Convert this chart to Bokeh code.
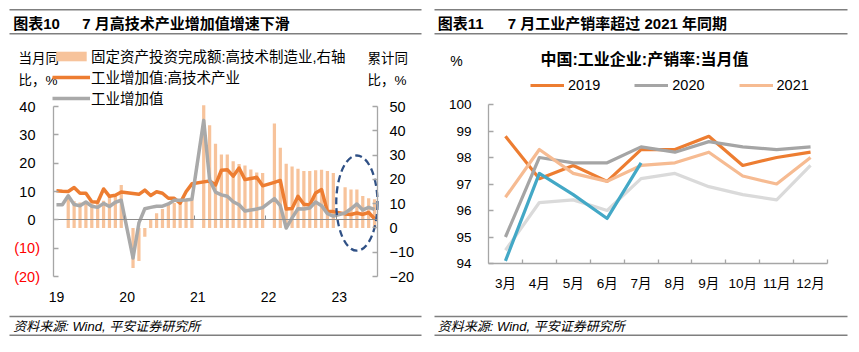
from bokeh.plotting import figure
from bokeh.models import (Range1d, LinearAxis, FixedTicker, Label, Legend,
                          LegendItem, BoxAnnotation)
from bokeh.layouts import row
from bokeh.embed import file_html
from bokeh.resources import INLINE

FONT = "Liberation Sans, Noto Sans CJK SC"

# ---------------- data: chart 10 (monthly, Jan 2019 - Jul 2023) ----------------
years = [2019, 2020, 2021, 2022, 2023]
months = [f"{y}-{m:02d}" for y in years for m in range(1, 13)][:55]
year_labels = ["19", "20", "21", "22", "23"]

# 固定资产投资完成额:高技术制造业 (累计同比, right axis)
fai_hitech_mfg = [
    None, None, 12.5, 11.0, 10.5, 10.4, 10.0, 10.6, 11.2, 13.5, 14.0, 17.7,
    None, -16.5, -13.6, -3.6, 3.3, 6.0, 7.8, 9.9, 10.3, 11.3, 12.0, 11.6,
    None, 50.5, 42.3, 34.7, 30.2, 30.2, 27.5, 26.3, 25.7, 24.1, 22.8, 22.6,
    None, 43.0, 33.0, 26.4, 25.3, 24.4, 23.4, 23.4, 23.7, 24.0, 23.4, 22.6,
    None, 16.8, 15.8, 15.8, 13.1, 12.2, 11.8]

# 工业增加值:高技术产业 (当月同比, left axis)
va_hitech = [
    10.3, 10.1, 10.0, 11.4, 9.4, 9.4, 6.4, 6.2, 10.9, 8.3, 8.7, 9.8,
    None, None, 9.0, 10.5, 8.6, 9.9, 9.4, 7.6, 7.6, 5.9, 9.9, 12.7,
    None, 13.4, 13.7, 12.3, 17.5, 17.7, 15.4, 18.3, 14.2, 14.6, 15.0, 12.0,
    None, 13.2, 13.9, 3.8, 4.0, 8.3, 5.5, 5.2, 9.5, 10.7, 2.9, 2.9,
    None, 2.1, 1.9, 2.4, 1.9, 2.6, 0.4]

# 工业增加值 (当月同比, left axis)
va_total = [
    5.3, 5.3, 8.5, 5.4, 5.0, 6.3, 4.8, 4.4, 5.8, 4.7, 6.2, 6.9,
    None, -13.5, -1.1, 3.9, 4.4, 4.8, 4.8, 5.6, 6.9, 6.9, 7.0, 7.3,
    None, 35.1, 14.1, 9.8, 8.8, 8.3, 6.4, 5.3, 3.1, 3.5, 3.8, 4.3,
    None, 7.5, 5.0, -2.9, 0.7, 3.9, 3.8, 4.2, 6.3, 5.0, 2.2, 1.3,
    None, 2.4, 3.9, 5.6, 3.5, 4.4, 3.7]

left_ticks = [-20, -10, 0, 10, 20, 30, 40]
right_ticks = [-20, -10, 0, 10, 20, 30, 40, 50]

# ---------------- data: chart 11 ----------------
months_r = ["3月", "4月", "5月", "6月", "7月", "8月", "9月", "10月", "11月", "12月"]
rate_2019 = [98.8, 97.2, 97.7, 97.1, 98.3, 98.3, 98.8, 97.7, 98.0, 98.2]
rate_2020 = [95.0, 98.0, 97.8, 97.8, 98.4, 98.2, 98.6, 98.4, 98.3, 98.4]
rate_2021 = [96.5, 98.3, 97.4, 97.1, 97.7, 97.8, 98.2, 97.3, 97.0, 98.0]
rate_2022 = [94.5, 96.3, 96.4, 96.0, 97.2, 97.4, 96.9, 96.6, 96.4, 97.7]
rate_2023 = [94.1, 97.4, 96.6, 95.7, 97.8]
rate_ticks = [94, 95, 96, 97, 98, 99, 100]

# ---------------- styles ----------------
ORANGE = "#ED7D31"
GRAY = "#A9A9A9"
BAR = "#F7C39B"
PEACH = "#F6BB92"
LGRAY = "#DADADA"
BLUE = "#43A8C6"
AXIS = "#A6A6A6"
RULE = "#7F7F7F"
H = 352


def pairs(vals):
    xs = [i for i, v in enumerate(vals) if v is not None]
    ys = [v for v in vals if v is not None]
    return xs, ys


def style_axis(ax, size):
    ax.axis_line_color = AXIS
    ax.axis_line_width = 1.3
    ax.major_tick_line_color = AXIS
    ax.major_tick_line_width = 1.3
    ax.major_tick_in = 5
    ax.major_tick_out = 0
    ax.minor_tick_line_color = None
    ax.major_label_text_font = FONT
    ax.major_label_text_font_size = size
    ax.major_label_text_color = "black"


def base_fig(width, xr, yr):
    p = figure(width=width, height=H, title=None, output_backend="svg",
               toolbar_location=None, x_range=xr, y_range=yr,
               x_axis_location=None, y_axis_location=None, min_border=0,
               min_border_left=0, min_border_right=0, min_border_top=0,
               min_border_bottom=0)
    p.xgrid.visible = False
    p.ygrid.visible = False
    p.outline_line_color = None
    p.background_fill_color = "white"
    p.border_fill_color = "white"
    return p


def add_text(p, X, Y, text, size, align="left", color="black", style="normal"):
    # X, Y: pixel position inside the panel, measured from its top-left corner
    p.add_layout(Label(x=X, y=H - Y, x_units="screen", y_units="screen",
                       text=text, text_font=FONT, text_font_size=size,
                       text_align=align, text_baseline="middle",
                       text_color=color, text_font_style=style))


def add_rule(p, X0, X1, Y):
    p.add_layout(BoxAnnotation(left=X0, right=X1, top=H - Y + 0.75, bottom=H - Y - 0.75,
                               left_units="screen", right_units="screen",
                               top_units="screen", bottom_units="screen",
                               fill_color=RULE, fill_alpha=1.0, line_color=None))


# ================= chart 10 =================
W_L = 430
PX_L, PX_R, PY_T, PY_B = 53, 377, 106, 276      # plot area in panel pixels
n = len(months)
DX = (PX_R - PX_L) / n                           # px per month
X0 = PX_L + DX / 2                               # px of first month
SL = (PY_B - PY_T) / (left_ticks[-1] - left_ticks[0])
SR = (PY_B - PY_T) / (right_ticks[-1] - right_ticks[0])
Y0L = PY_B + left_ticks[0] * SL
Y0R = PY_B + right_ticks[0] * SR
xL = (PX_L - X0) / DX
xR = (PX_R - X0) / DX

pL = base_fig(W_L, Range1d(-X0 / DX, (W_L - X0) / DX),
              Range1d(-(H - Y0L) / SL, Y0L / SL))
pL.extra_y_ranges = {"r": Range1d(-(H - Y0R) / SR, Y0R / SR)}

bx, bt = pairs(fai_hitech_mfg)
r_bar = pL.vbar(x=bx, top=bt, bottom=0, width=0.55, y_range_name="r",
                fill_color=BAR, line_color=None)

# zero line with year-boundary ticks (an axis fixed at y = 0)
year_starts = [i for i, m in enumerate(months) if m.endswith("-01")]
bounds = [i - 0.5 for i in year_starts if i > 0]
zero_ax = LinearAxis(fixed_location=0, bounds=(xL, xR),
                     ticker=FixedTicker(ticks=[], minor_ticks=bounds))
zero_ax.axis_line_color = "#8C8C8C"
zero_ax.axis_line_width = 1
zero_ax.major_tick_line_color = None
zero_ax.minor_tick_line_color = "#8C8C8C"
zero_ax.minor_tick_in = 4
zero_ax.minor_tick_out = 0
zero_ax.major_label_text_alpha = 0
pL.add_layout(zero_ax, "below")

ox, oy = pairs(va_hitech)
r_or = pL.line(ox, oy, line_color=ORANGE, line_width=3.5, line_join="round")
gx, gy = pairs(va_total)
r_gr = pL.line(gx, gy, line_color=GRAY, line_width=3.5, line_join="round")

# highlight ellipse around the 2023 months
last_year = [i for i, m in enumerate(months) if m.startswith("2023")]
cx = sum(last_year) / len(last_year)
pL.ellipse(x=[cx], y=[5.9], width=7.0, height=33.6, fill_color=None,
           line_color="#2F5085", line_width=2.3, line_dash="7 4")

# left axis
yl = LinearAxis(fixed_location=xL, bounds=(left_ticks[0], left_ticks[-1]),
                ticker=FixedTicker(ticks=left_ticks))
style_axis(yl, "14.5px")
yl.major_label_standoff = 18
yl.major_label_overrides = {t: "" for t in left_ticks if t < 0}
pL.add_layout(yl, "left")
for t in left_ticks:
    if t < 0:
        pL.add_layout(Label(x=PX_L - 13.5, y=t, x_units="screen", y_units="data",
                            text=f"({abs(t)})", text_font=FONT, text_font_size="14.5px",
                            text_align="right", text_baseline="middle", text_color="#FF0000"))

# right axis
yr = LinearAxis(y_range_name="r", fixed_location=xR,
                bounds=(right_ticks[0], right_ticks[-1]),
                ticker=FixedTicker(ticks=right_ticks))
style_axis(yr, "14.5px")
yr.major_label_standoff = 12
pL.add_layout(yr, "right")

# year labels along the bottom
xl = LinearAxis(fixed_location=left_ticks[0], ticker=FixedTicker(ticks=year_starts))
xl.major_label_overrides = {i: lab for i, lab in zip(year_starts, year_labels)}
xl.axis_line_color = None
xl.major_tick_line_color = None
xl.minor_tick_line_color = None
xl.major_label_standoff = 9
xl.major_label_text_font = FONT
xl.major_label_text_font_size = "14px"
xl.major_label_text_color = "black"
pL.add_layout(xl, "below")

legL = Legend(items=[
    LegendItem(label="固定资产投资完成额:高技术制造业,右轴", renderers=[r_bar]),
    LegendItem(label="工业增加值:高技术产业", renderers=[r_or]),
    LegendItem(label="工业增加值", renderers=[r_gr]),
], location=(PX_L - 1, H - 108), orientation="vertical", glyph_width=38, glyph_height=12,
    label_height=20, label_standoff=1, spacing=0, padding=0, margin=0,
    border_line_color=None, background_fill_alpha=0,
    label_text_font=FONT, label_text_font_size="14.5px", label_text_color="black")
pL.add_layout(legL)

add_text(pL, 18, 58, "当月同", "13.5px")
add_text(pL, 18, 80, "比，%", "13.5px")
add_text(pL, 367, 58, "累计同", "13.5px")
add_text(pL, 367, 80, "比，%", "13.5px")

add_rule(pL, 9, 421, 9.3)
add_rule(pL, 9, 421, 33.3)
add_text(pL, 12.7, 22.5, "图表10", "15px", style="bold")
add_text(pL, 81.7, 22.5, "7 月高技术产业增加值增速下滑", "15px", style="bold")
add_rule(pL, 9, 421, 316)
add_rule(pL, 9, 421, 334.8)
add_text(pL, 12.7, 326, "资料来源: Wind, 平安证券研究所", "13px", style="italic")

# ================= chart 11 =================
W_R = 429
OFF = 430
QX_L, QX_R, QY_T, QY_B = 488 - OFF, 827 - OFF, 104, 263
m = len(months_r)
DXR = (QX_R - QX_L) / m
X0R = QX_L + DXR / 2
SY = (QY_B - QY_T) / (rate_ticks[-1] - rate_ticks[0])

pR = base_fig(W_R, Range1d(-X0R / DXR, (W_R - X0R) / DXR),
              Range1d(rate_ticks[-1] - (H - QY_T) / SY, rate_ticks[-1] + QY_T / SY))

xr = list(range(m))
r19 = pR.line(xr, rate_2019, line_color=ORANGE, line_width=3.2, line_join="round")
r20 = pR.line(xr, rate_2020, line_color="#A5A5A5", line_width=3.2, line_join="round")
r21 = pR.line(xr, rate_2021, line_color=PEACH, line_width=3.2, line_join="round")
pR.line(xr, rate_2022, line_color=LGRAY, line_width=3.2, line_join="round")
pR.line(xr[:len(rate_2023)], rate_2023, line_color=BLUE, line_width=3.2, line_join="round")

ya = LinearAxis(fixed_location=-0.5, bounds=(rate_ticks[0], rate_ticks[-1]),
                ticker=FixedTicker(ticks=rate_ticks))
style_axis(ya, "13.5px")
ya.major_label_standoff = 17
pR.add_layout(ya, "left")

xa = LinearAxis(fixed_location=rate_ticks[0], bounds=(-0.5, m - 0.5),
                ticker=FixedTicker(ticks=xr, minor_ticks=[i + 0.5 for i in xr]))
style_axis(xa, "13.5px")
xa.major_label_overrides = {i: lab for i, lab in zip(xr, months_r)}
xa.major_tick_line_color = None
xa.minor_tick_line_color = AXIS
xa.minor_tick_line_width = 1.3
xa.minor_tick_in = 4
xa.minor_tick_out = 0
xa.major_label_standoff = 12
pR.add_layout(xa, "below")

legR = Legend(items=[
    LegendItem(label="2019", renderers=[r19]),
    LegendItem(label="2020", renderers=[r20]),
    LegendItem(label="2021", renderers=[r21]),
], location=(530 - OFF, H - 95), orientation="horizontal", glyph_width=34,
    glyph_height=20, label_height=20, label_standoff=4, spacing=34, padding=0, margin=0,
    border_line_color=None, background_fill_alpha=0,
    label_text_font=FONT, label_text_font_size="14.5px", label_text_color="black")
pR.add_layout(legR)

add_text(pR, 644 - OFF, 59, "中国:工业企业:产销率:当月值", "16px", align="center", style="bold")
add_text(pR, 456 - OFF, 60, "%", "14px", align="center")

add_rule(pR, 434 - OFF, 847 - OFF, 9.3)
add_rule(pR, 434 - OFF, 847 - OFF, 33.3)
add_text(pR, 437.3 - OFF, 22.5, "图表11", "15px", style="bold")
add_text(pR, 507.3 - OFF, 22.5, "7 月工业产销率超过 2021 年同期", "15px", style="bold")
add_rule(pR, 434 - OFF, 847 - OFF, 316)
add_rule(pR, 434 - OFF, 847 - OFF, 334.8)
add_text(pR, 437.3 - OFF, 326, "资料来源: Wind, 平安证券研究所", "13px", style="italic")

layout = row(pL, pR)
open("out.html", "w").write(file_html(layout, INLINE))
